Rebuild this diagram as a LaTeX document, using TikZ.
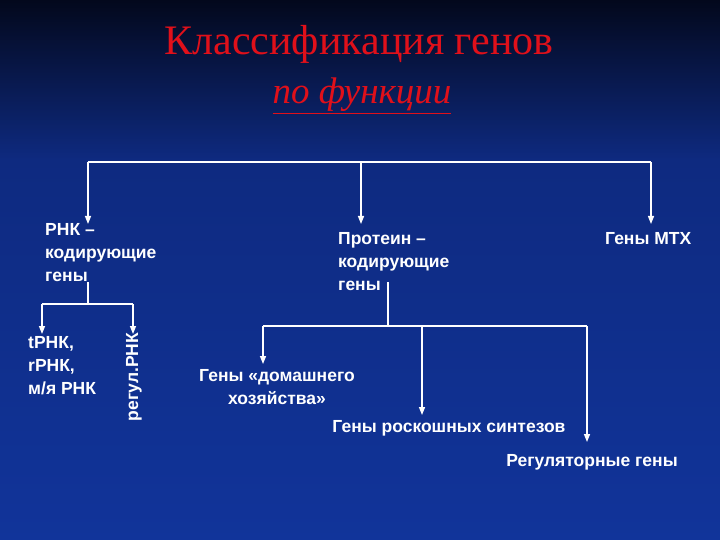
\documentclass[tikz,border=0pt]{standalone}
\usepackage{fontspec}
\setmainfont{Liberation Serif}
\newfontfamily\arialf{Liberation Sans}
\usetikzlibrary{arrows.meta}
\definecolor{bgtop}{HTML}{03081C}
\definecolor{bgmid}{HTML}{0E2A80}
\definecolor{bgbot}{HTML}{11349A}
\definecolor{titred}{HTML}{E0101A}
\tikzset{
  lbl/.style={text=white,font=\arialf\bfseries\fontsize{17.5}{23}\selectfont,inner sep=0pt,align=left},
  conn/.style={draw=white,line width=1.4pt},
  arr/.style={conn,-{Triangle[width=6pt,length=8pt]}},
  ttl/.style={text=titred,inner sep=0pt}
}
\begin{document}
\begin{tikzpicture}[x=1pt,y=-1pt]
\useasboundingbox (0,0) rectangle (720,540);
\shade[top color=bgtop,bottom color=bgmid] (0,0) rectangle (720,160);
\shade[top color=bgmid,bottom color=bgbot] (0,160) rectangle (720,540);
% title
\node[ttl,font=\fontsize{42}{46}\selectfont] (t1) at (359,44) {Классификация генов};
\node[ttl,font=\itshape\fontsize{37}{40}\selectfont] (t2) at (362,96) {\underline{по функции}};
% top tree
\coordinate (h1) at (88,162); \coordinate (h2) at (361,162); \coordinate (h3) at (651,162);
\coordinate (e1) at (88,224); \coordinate (e2) at (361,224); \coordinate (e3) at (651,224);
\draw[conn] (h1) -- (h3);
\draw[arr] (h1) -- (e1);
\draw[arr] (h2) -- (e2);
\draw[arr] (h3) -- (e3);
\node[lbl,anchor=north west] (rnk) at (45,223) {РНК –\\кодирующие\\гены};
\node[lbl,anchor=north west] (prot) at (338,232) {Протеин –\\кодирующие\\гены};
\node[lbl,anchor=north west] (mtx) at (605,232) {Гены МТХ};
% RNA subtree
\coordinate (r0) at (88,282); \coordinate (r1) at (88,304);
\coordinate (ra) at (42,304); \coordinate (rb) at (133,304);
\coordinate (rae) at (42,334); \coordinate (rbe) at (133,334);
\draw[conn] (r0) -- (r1);
\draw[conn] (ra) -- (rb);
\draw[arr] (ra) -- (rae);
\draw[arr] (rb) -- (rbe);
\node[lbl,anchor=north west] (trna) at (28,336) {tРНК,\\rРНК,\\м/я РНК};
\node[lbl,rotate=90] (reg) at (134,377) {регул.РНК};
% protein subtree
\coordinate (p0) at (388,282); \coordinate (p1) at (388,326);
\coordinate (pa) at (263,326); \coordinate (pb) at (422,326); \coordinate (pc) at (587,326);
\coordinate (pae) at (263,364); \coordinate (pbe) at (422,415); \coordinate (pce) at (587,442);
\draw[conn] (p0) -- (p1);
\draw[conn] (pa) -- (pc);
\draw[arr] (pa) -- (pae);
\draw[arr] (pb) -- (pbe);
\draw[arr] (pc) -- (pce);
\node[lbl,align=center] (home) at (277,387) {Гены «домашнего\\хозяйства»};
\node[lbl] (lux) at (449,428) {Гены роскошных синтезов};
\node[lbl] (regg) at (592,462) {Регуляторные гены};
\end{tikzpicture}
\end{document}
